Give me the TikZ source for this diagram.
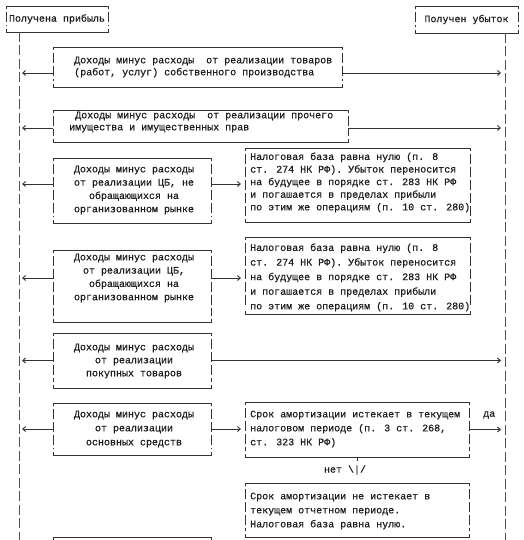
\documentclass[tikz,border=0pt]{standalone}
\usepackage{fontspec}
\setmonofont{Liberation Mono}
\newfontfamily\asciimono[FakeBold=0.6]{Liberation Mono}
\usetikzlibrary{arrows.meta}
\definecolor{ink}{HTML}{1E1E1E}
\definecolor{lineclr}{HTML}{333333}
\newcommand\asciiframe[1]{%
  \draw[frameline] ([yshift=-3pt]#1.north west) -- (#1.north west) -- (#1.north east) -- ([yshift=-3pt]#1.north east);
  \draw[frameline] ([yshift=3pt]#1.south west) -- (#1.south west) -- (#1.south east) -- ([yshift=3pt]#1.south east);
  \draw[sideline] ([yshift=-6pt]#1.north west) -- ([yshift=6pt]#1.south west);
  \draw[sideline] ([yshift=-6pt]#1.north east) -- ([yshift=6pt]#1.south east);
}
\begin{document}
\begin{tikzpicture}[x=1pt,y=-1pt,
  boxframe/.style={inner sep=0pt, outer sep=0pt, draw=none},
  txt/.style={font=\asciimono\fontsize{10}{#1}\selectfont, text=ink, inner sep=0pt},
  txt/.default=13,
  frameline/.style={draw=lineclr, line width=0.9pt},
  sideline/.style={draw=lineclr, line width=0.9pt, dash pattern=on 10pt off 3pt},
  lifeline/.style={draw=lineclr!85, line width=0.9pt, dash pattern=on 10pt off 3.5pt},
  arr/.style={draw=lineclr, line width=0.9pt, -{Straight Barb[length=3pt,width=5pt]}},
]
\fill[white] (0,0) rectangle (523,540);
\useasboundingbox (0,0) rectangle (523,540);
\clip (0,0) rectangle (523,540);

% heads
\node[boxframe, minimum width=102pt, minimum height=26pt, txt] (h0L) at (57,19) {Получена прибыль};
\node[boxframe, minimum width=103pt, minimum height=27pt, txt] (h0R) at (466.5,19.5) {Получен убыток};
\asciiframe{h0L}
\asciiframe{h0R}

\coordinate (lifeL) at (19,545);
\coordinate (lifeR) at (505,545);
\draw[lifeline] (h0L.south -| lifeL) -- (lifeL);
\draw[lifeline] (h0R.south -| lifeR) -- (lifeR);

% box 1
\node[boxframe, minimum width=289pt, minimum height=40pt] (b1) at (197.5,67) {};
\node[txt=12, align=left, anchor=west] (t1) at (74,67) {Доходы минус расходы\ \ от реализации товаров\\(работ, услуг) собственного производства};
\asciiframe{b1}

% box 2
\node[boxframe, minimum width=295pt, minimum height=32pt] (b2) at (200.5,126) {};
\node[txt=12, align=left, anchor=west] (t2) at (69,122) {\hspace*{6pt}Доходы минус расходы\ \ от реализации прочего\\имущества и имущественных прав};
\asciiframe{b2}

% box 3
\node[boxframe, minimum width=158pt, minimum height=65pt] (b3) at (132,190.5) {};
\node[txt=13.3, align=center] (t3) at (134,190) {Доходы минус расходы\\от реализации ЦБ, не\\обращающихся на\\организованном рынке};
\asciiframe{b3}
\node[boxframe, minimum width=225pt, minimum height=74pt] (b3R) at (357.5,185) {};
\node[txt=12.6, align=left, anchor=west] (t3R) at (250,182.5) {Налоговая база равна нулю (п. 8\\ст. 274 НК РФ). Убыток переносится\\на будущее в порядке ст. 283 НК РФ\\и погашается в пределах прибыли\\по этим же операциям (п. 10 ст. 280)};
\asciiframe{b3R}

% box 4
\node[boxframe, minimum width=158pt, minimum height=72pt] (b4) at (132,286) {};
\node[txt=13.3, align=center] (t4) at (134,278) {Доходы минус расходы\\от реализации ЦБ,\\обращающихся на\\организованном рынке};
\asciiframe{b4}
\node[boxframe, minimum width=225pt, minimum height=77pt] (b4R) at (357.5,275.5) {};
\node[txt=14.6, align=left, anchor=west] (t4R) at (250,277.5) {Налоговая база равна нулю (п. 8\\ст. 274 НК РФ). Убыток переносится\\на будущее в порядке ст. 283 НК РФ\\и погашается в пределах прибыли\\по этим же операциям (п. 10 ст. 280)};
\asciiframe{b4R}

% box 5
\node[boxframe, minimum width=158pt, minimum height=55pt] (b5) at (132,360.5) {};
\node[txt=13, align=center] (t5) at (134,361) {Доходы минус расходы\\от реализации\\покупных товаров};
\asciiframe{b5}

% box 6
\node[boxframe, minimum width=158pt, minimum height=52pt] (b6) at (132,429) {};
\node[txt=14, align=center] (t6) at (134,429) {Доходы минус расходы\\от реализации\\основных средств};
\asciiframe{b6}
\node[boxframe, minimum width=224pt, minimum height=55pt] (b6R) at (357,429.5) {};
\node[txt=14, align=left, anchor=west] (t6R) at (250,429) {Срок амортизации истекает в текущем\\налоговом периоде (п. 3 ст. 268,\\ст. 323 НК РФ)};
\asciiframe{b6R}
\draw[frameline] (b6R.south) -- ++(0,4);
\node[txt, anchor=west] (yes) at (483,415) {да};
\node[txt] (no) at (345,470) {нет \textbackslash|/};

% box 7
\node[boxframe, minimum width=224pt, minimum height=54pt] (b7R) at (357,510) {};
\node[txt=14, align=left, anchor=west] (t7R) at (250,511) {Срок амортизации не истекает в\\текущем отчетном периоде.\\Налоговая база равна нулю.};
\asciiframe{b7R}
\draw[frameline] (53,541) -- (53,537) -- (211,537) -- (211,541);

% arrows
\coordinate (a1) at ([yshift=-6pt]b1.west);
\coordinate (a1r) at ([yshift=-6pt]b1.east);
\coordinate (a2) at ([yshift=-2pt]b2.west);
\coordinate (a2r) at ([yshift=-2pt]b2.east);
\coordinate (a3) at ([yshift=6.5pt]b3.west);
\coordinate (a3r) at ([yshift=6.5pt]b3.east);
\coordinate (a4) at ([yshift=8pt]b4.west);
\coordinate (a4r) at ([yshift=8pt]b4.east);
\coordinate (a5) at (b5.west);
\coordinate (a5r) at (b5.east);
\coordinate (a6) at (b6.west);
\coordinate (a6r) at (b6.east);
\coordinate (a6R) at (b6R.east);

\draw[arr, shorten >=3pt] (a1) -- (a1 -| lifeL);
\draw[arr, shorten >=4pt] (a1r) -- (a1r -| lifeR);
\draw[arr, shorten >=3pt] (a2) -- (a2 -| lifeL);
\draw[arr, shorten >=4pt] (a2r) -- (a2r -| lifeR);
\draw[arr, shorten >=3pt] (a3) -- (a3 -| lifeL);
\draw[arr, shorten >=4pt] (a3r) -- (a3r -| b3R.west);
\draw[arr, shorten >=3pt] (a4) -- (a4 -| lifeL);
\draw[arr, shorten >=4pt] (a4r) -- (a4r -| b4R.west);
\draw[arr, shorten >=3pt] (a5) -- (a5 -| lifeL);
\draw[arr, shorten >=4pt] (a5r) -- (a5r -| lifeR);
\draw[arr, shorten >=3pt] (a6) -- (a6 -| lifeL);
\draw[arr, shorten >=4pt] (a6r) -- (a6r -| b6R.west);
\draw[arr, shorten >=4pt] (a6R) -- (a6R -| lifeR);
\end{tikzpicture}
\end{document}
